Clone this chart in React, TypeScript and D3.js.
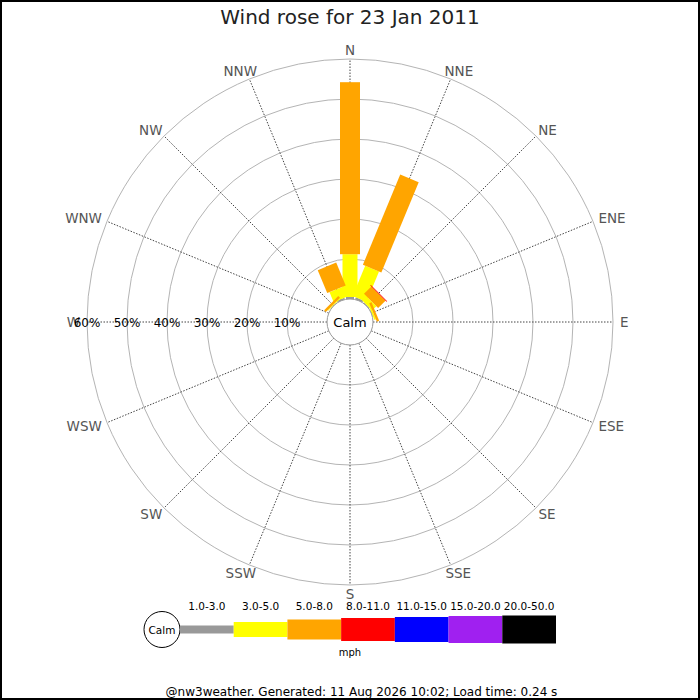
import React from 'react'
import * as d3 from 'd3'

const W = 700
const H = 700
const cx = 350
const cy = 322
const calmR = 23
const font = 'DejaVu Sans, sans-serif'
const dirFont = 13.5

const directions = ['N', 'NNE', 'NE', 'ENE', 'E', 'ESE', 'SE', 'SSE', 'S', 'SSW', 'SW', 'WSW', 'W', 'WNW', 'NW', 'NNW']
const speedClasses = ['1.0-3.0', '3.0-5.0', '5.0-8.0', '8.0-11.0', '11.0-15.0', '15.0-20.0', '20.0-50.0']
const classColors = ['#999999', '#ffff00', '#ffa500', '#ff0000', '#0000ff', '#a020f0', '#000000']
const classWidths = [8, 15, 20, 23, 25, 27, 28]
const ringTicks = [10, 20, 30, 40, 50, 60]

// percent of time per direction, one array per speed class
const speed1to3 = [0.5, 0.5, 0.2, 0.1, 0, 0, 0, 0, 0, 0, 0, 0, 0, 0, 0.1, 0.4]
const speed3to5 = [10.7, 8.2, 1.5, 0.4, 0, 0, 0, 0, 0, 0, 0, 0, 0, 0, 0.2, 2.7]
const speed5to8 = [43.0, 24.4, 2.6, 0.6, 0, 0, 0, 0, 0, 0, 0, 0, 0, 0, 0.6, 6.2]
const speed8to11 = [0, 0, 0.2, 0, 0, 0, 0, 0, 0, 0, 0, 0, 0, 0, 0, 0]
const speed11to15 = [0, 0, 0, 0, 0, 0, 0, 0, 0, 0, 0, 0, 0, 0, 0, 0]
const speed15to20 = [0, 0, 0, 0, 0, 0, 0, 0, 0, 0, 0, 0, 0, 0, 0, 0]
const speed20to50 = [0, 0, 0, 0, 0, 0, 0, 0, 0, 0, 0, 0, 0, 0, 0, 0]

const series = [speed1to3, speed3to5, speed5to8, speed8to11, speed11to15, speed15to20, speed20to50]

const rows = directions.map((d, i) => {
  const row: any = {dir: d}
  speedClasses.forEach((c, k) => { row[c] = series[k][i] })
  return row
})
const stacked = d3.stack().keys(speedClasses)(rows)

const r = d3.scaleLinear().domain([0, 60]).range([calmR, 263])
const angle = d3.scaleLinear().domain([0, directions.length]).range([0, 360])

const legendX = d3.scaleBand().domain(speedClasses).range([180, 556])
const legendY = 629.5

// rough DejaVu Sans glyph widths (em) for the compass letters
const glyphW: any = {N: 0.748, E: 0.632, S: 0.635, W: 0.989}
const textWidth = (s: string) => s.split('').reduce((acc, ch) => acc + glyphW[ch], 0) * dirFont

export default function App() {
  return (
    <svg width={W} height={H} style={{position: 'absolute', left: 0, top: 0, background: '#fff'}}>
      <rect x={1} y={1} width={W - 2} height={H - 2} fill="#fff" stroke="#000" strokeWidth={2} />
      <text x={cx} y={24} textAnchor="middle" fontFamily={font} fontSize={20} fill="#222">Wind rose for 23 Jan 2011</text>

      {ringTicks.map(t => (
        <circle key={t} cx={cx} cy={cy} r={r(t)} fill="none" stroke="#b4b4b4" strokeWidth={1} />
      ))}
      {directions.map((d, i) => {
        const a = (angle(i) * Math.PI) / 180
        return (
          <line key={d} x1={cx + calmR * Math.sin(a)} y1={cy - calmR * Math.cos(a)}
            x2={cx + r(60) * Math.sin(a)} y2={cy - r(60) * Math.cos(a)}
            stroke="#444" strokeWidth={1} strokeDasharray="1.5,1.5" />
        )
      })}

      {stacked.map((layer, k) => (
        <g key={speedClasses[k]}>
          {layer.map((seg, i) => {
            if (seg[1] - seg[0] <= 0) return null
            const r0 = r(seg[0]), r1 = r(seg[1])
            const w = classWidths[k]
            return (
              <rect key={i} transform={`rotate(${angle(i)},${cx},${cy})`}
                x={cx - w / 2} y={cy - r1} width={w} height={r1 - r0} fill={classColors[k]} />
            )
          })}
        </g>
      ))}

      <circle cx={cx} cy={cy} r={calmR} fill="#fff" stroke="#999" strokeWidth={1} />
      <text x={cx} y={cy + 5} textAnchor="middle" fontFamily={font} fontSize={13} fill="#000">Calm</text>

      {directions.map((d, i) => {
        const a = (angle(i) * Math.PI) / 180
        const s = Math.sin(a)
        const x = cx + 270 * s + (s * textWidth(d)) / 2
        const y = cy - 272 * Math.cos(a)
        return (
          <text key={d} x={x} y={y + 5} textAnchor="middle" fontFamily={font} fontSize={dirFont} fill="#555">{d}</text>
        )
      })}
      {ringTicks.map(t => (
        <text key={t} x={cx - r(t)} y={cy + 5} textAnchor="middle" fontFamily={font} fontSize={12} fill="#000">{t}%</text>
      ))}

      <circle cx={162} cy={legendY} r={18} fill="#fff" stroke="#000" strokeWidth={1} />
      <text x={162} y={legendY + 4} textAnchor="middle" fontFamily={font} fontSize={10.5} fill="#000">Calm</text>
      {speedClasses.map((c, k) => (
        <g key={c}>
          <rect x={legendX(c)} y={legendY - classWidths[k] / 2} width={legendX.bandwidth()} height={classWidths[k]} fill={classColors[k]} />
          <text x={(legendX(c) as number) + legendX.bandwidth() / 2} y={610} textAnchor="middle" fontFamily={font} fontSize={10.5} fill="#000">{c}</text>
        </g>
      ))}
      <text x={350} y={656} textAnchor="middle" fontFamily={font} fontSize={10} fill="#000">mph</text>
      <text x={361.5} y={696} textAnchor="middle" fontFamily={font} fontSize={12} fill="#000">@nw3weather. Generated: 11 Aug 2026 10:02; Load time: 0.24 s</text>
    </svg>
  )
}
